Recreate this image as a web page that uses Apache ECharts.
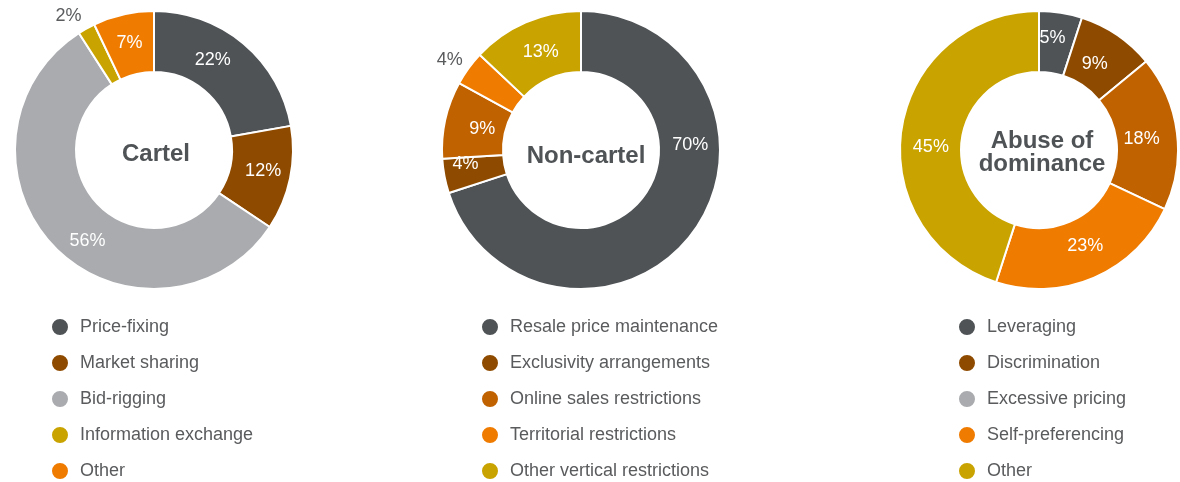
<!DOCTYPE html>
<html>
<head>
<meta charset="utf-8">
<style>
  html, body { margin: 0; padding: 0; background: #ffffff; }
  #chart { width: 1180px; height: 482px; }
</style>
<script src="https://cdn.jsdelivr.net/npm/echarts@6/dist/echarts.min.js"></script>
</head>
<body>
<div id="chart"></div>
<script>
// Share of cases by infringement type (%)
const cartelNames = ['Price-fixing', 'Market sharing', 'Bid-rigging', 'Information exchange', 'Other'];
const cartelValues = [22, 12, 56, 2, 7];

const nonCartelNames = ['Resale price maintenance', 'Exclusivity arrangements', 'Online sales restrictions', 'Territorial restrictions', 'Other vertical restrictions'];
const nonCartelValues = [70, 4, 9, 4, 13];

const abuseNames = ['Leveraging', 'Discrimination', 'Excessive pricing', 'Self-preferencing', 'Other'];
const abuseValues = [5, 9, 18, 23, 45];

const panelTitles = ['Cartel', 'Non-cartel', 'Abuse of\ndominance'];

// Palette
const C = {
  charcoal: '#4F5356',
  brown: '#8E4B00',
  grey: '#A9ABAE',
  gold: '#C9A300',
  orange: '#EF7B00',
  rust: '#C16200'
};
const cartelColors = [C.charcoal, C.brown, C.grey, C.gold, C.orange];
const nonCartelColors = [C.charcoal, C.brown, C.rust, C.orange, C.gold];
const abuseSliceColors = [C.charcoal, C.brown, C.rust, C.orange, C.gold];
const abuseLegendColors = [C.charcoal, C.brown, C.grey, C.orange, C.gold];

// Slices too thin for an inside label get theirs placed just outside the ring
const smallSlices = {
  cartel: ['Information exchange'],
  nonCartel: ['Territorial restrictions'],
  abuse: []
};

// Hand-tuned nudges [dx, dy] for the percentage labels, per slice
const cartelLabelNudge = [[-13, -5], [0, -2], [13, 13], [-2, -7], [0, 2]];
const nonCartelLabelNudge = [[19, -71], [-6, -7], [10, 3], [-1, -5], [4, 4]];
const abuseLabelNudge = [[-4, -2], [-7, 6], [-8, 3], [2, -6], [2, 14]];

const FONT = '"Liberation Sans", Arial, Helvetica, sans-serif';
const TEXT_GREY = '#5A5B5D';

function pieData(names, values, colors, outsideNames, nudges) {
  return names.map((n, i) => {
    const d = {
      name: n,
      value: values[i],
      itemStyle: { color: colors[i] },
      label: { offset: nudges[i] }
    };
    if (outsideNames.indexOf(n) >= 0) {
      d.label.position = 'outside';
      d.label.color = TEXT_GREY;
      d.label.distanceToLabelLine = 0;
      d.labelLine = { show: false, length: 6, length2: 0 };
    }
    return d;
  });
}

function pieSeries(name, center, data) {
  return {
    name: name,
    type: 'pie',
    center: center,
    radius: [78, 139],
    startAngle: 90,
    clockwise: true,
    avoidLabelOverlap: false,
    silent: true,
    itemStyle: { borderColor: '#ffffff', borderWidth: 2 },
    label: {
      show: true,
      position: 'inside',
      formatter: '{c}%',
      color: '#ffffff',
      fontFamily: FONT,
      fontSize: 18
    },
    labelLine: { show: false },
    emphasis: { disabled: true },
    data: data
  };
}

function legendBlock(left, names, colors) {
  return {
    orient: 'vertical',
    left: left,
    top: 312,
    height: 170,
    icon: 'circle',
    itemWidth: 18,
    itemHeight: 18,
    itemGap: 16,
    selectedMode: false,
    textStyle: {
      color: TEXT_GREY,
      fontFamily: FONT,
      fontSize: 18,
      lineHeight: 18,
      padding: [0, 0, 0, 6]
    },
    data: names.map((n, i) => ({ name: n, itemStyle: { color: colors[i] } }))
  };
}

function centreTitle(text, x, y) {
  return {
    text: text,
    left: x,
    top: y,
    textAlign: 'center',
    textVerticalAlign: 'middle',
    textStyle: {
      color: '#4F5356',
      fontFamily: FONT,
      fontSize: 24,
      fontWeight: 'bold',
      lineHeight: 23
    }
  };
}

const chart = echarts.init(document.getElementById('chart'), null, { renderer: 'canvas' });

chart.setOption({
  animation: false,
  backgroundColor: '#ffffff',
  title: [
    centreTitle(panelTitles[0], 151, 149),
    centreTitle(panelTitles[1], 581, 151),
    centreTitle(panelTitles[2], 1037, 148)
  ],
  legend: [
    legendBlock(45, cartelNames, cartelColors),
    legendBlock(475, nonCartelNames, nonCartelColors),
    legendBlock(952, abuseNames, abuseLegendColors)
  ],
  series: [
    pieSeries('Cartel', [154, 150], pieData(cartelNames, cartelValues, cartelColors, smallSlices.cartel, cartelLabelNudge)),
    pieSeries('Non-cartel', [581, 150], pieData(nonCartelNames, nonCartelValues, nonCartelColors, smallSlices.nonCartel, nonCartelLabelNudge)),
    pieSeries('Abuse of dominance', [1039, 150], pieData(abuseNames, abuseValues, abuseSliceColors, smallSlices.abuse, abuseLabelNudge))
  ]
});
</script>
</body>
</html>
